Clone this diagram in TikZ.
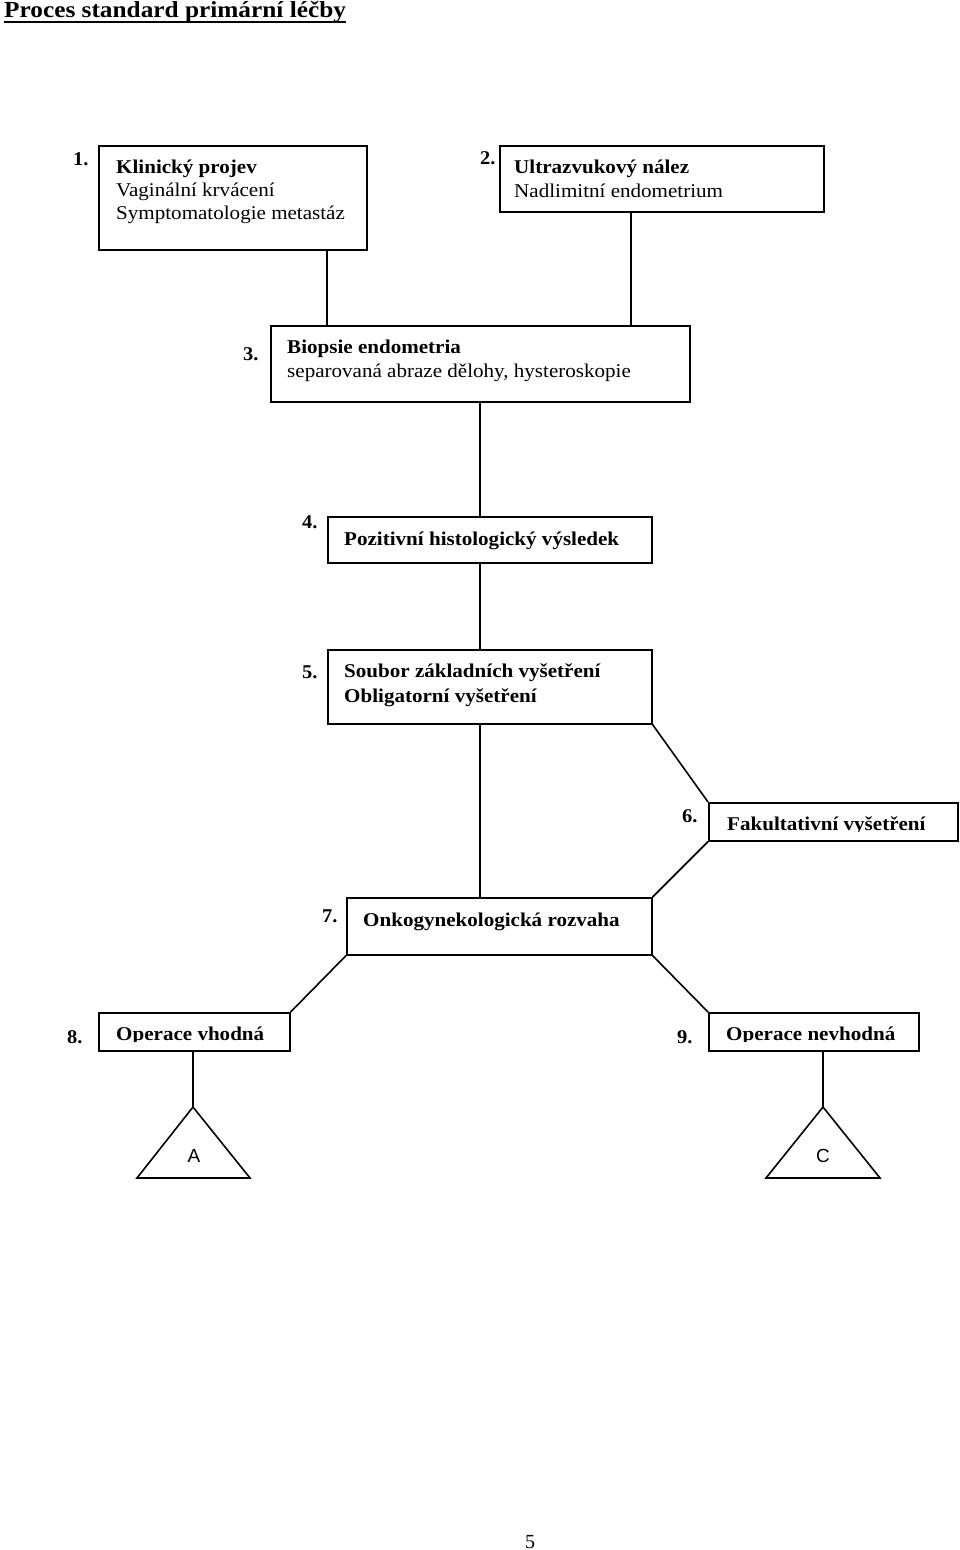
\documentclass[tikz,border=0pt]{standalone}
\usepackage{fontspec}
\setmainfont{Liberation Serif}
\newfontfamily\sansf{Liberation Sans}
\begin{document}
\begin{tikzpicture}[x=1pt,y=-1pt,
  box/.style={draw, line width=1.6pt, rectangle, inner sep=0pt, anchor=north west},
  conn/.style={line width=1.6pt},
  txt/.style={anchor=base west, inner sep=0pt, xscale=1.08, transform shape, font=\fontsize{19.5}{23}\selectfont},
  btxt/.style={txt, font=\fontsize{19.5}{23}\selectfont\bfseries},
  num/.style={anchor=base west, inner sep=0pt, xscale=1.05, transform shape, font=\fontsize{19.5}{23}\selectfont\bfseries},
  tri/.style={line width=1.6pt, line join=miter},
  lett/.style={inner sep=0pt, font=\sansf\fontsize{19}{23}\selectfont}]
\useasboundingbox (0,0) rectangle (960,1550);

% title
\node[anchor=base west, inner sep=0pt, xscale=1.10, transform shape, font=\fontsize{23}{26}\selectfont\bfseries] (title) at (4,17) {Proces standard primární léčby};
\draw[line width=1.4pt] ([yshift=-5pt]title.base west) -- ([yshift=-5pt]title.base east);

% boxes
\node[box, minimum width=268pt, minimum height=104pt] (b1) at (98,145) {};
\node[box, minimum width=324pt, minimum height=66pt] (b2) at (499,145) {};
\node[box, minimum width=419pt, minimum height=76pt] (b3) at (270,325) {};
\node[box, minimum width=324pt, minimum height=46pt] (b4) at (327,516) {};
\node[box, minimum width=324pt, minimum height=74pt] (b5) at (327,649) {};
\node[box, minimum width=249pt, minimum height=38pt] (b6) at (708,802) {};
\node[box, minimum width=305pt, minimum height=57pt] (b7) at (346,897) {};
\node[box, minimum width=191pt, minimum height=38pt] (b8) at (98,1012) {};
\node[box, minimum width=210pt, minimum height=38pt] (b9) at (708,1012) {};

% numbers
\node[num] (n1) at (73,165) {1.};
\node[num] (n2) at (480,164) {2.};
\node[num] (n3) at (243,360) {3.};
\node[num] (n4) at (302,528) {4.};
\node[num] (n5) at (302,678) {5.};
\node[num] (n6) at (682,822) {6.};
\node[num] (n7) at (322,922) {7.};
\node[num] (n8) at (67,1043) {8.};
\node[num] (n9) at (677,1043) {9.};

% texts
\node[btxt] (t1a) at (116,173) {Klinický projev};
\node[txt] (t1b) at (116,196) {Vaginální krvácení};
\node[txt] (t1c) at (116,219) {Symptomatologie metastáz};
\node[btxt] (t2a) at (514,173) {Ultrazvukový nález};
\node[txt] (t2b) at (514,197) {Nadlimitní endometrium};
\node[btxt] (t3a) at (287,353) {Biopsie endometria};
\node[txt] (t3b) at (287,377) {separovaná abraze dělohy, hysteroskopie};
\node[btxt] (t4) at (344,545) {Pozitivní histologický výsledek};
\node[btxt] (t5a) at (344,677) {Soubor základních vyšetření};
\node[btxt] (t5b) at (344,702) {Obligatorní vyšetření};
\begin{scope}
  \clip (700,800) rectangle (960,831);
  \node[btxt] (t6) at (727,830) {Fakultativní vyšetření};
\end{scope}
\node[btxt] (t7) at (363,926) {Onkogynekologická rozvaha};
\begin{scope}
  \clip (90,1010) rectangle (300,1041);
  \node[btxt] (t8) at (116,1040) {Operace vhodná};
\end{scope}
\begin{scope}
  \clip (700,1010) rectangle (930,1041);
  \node[btxt] (t9) at (726,1040) {Operace nevhodná};
\end{scope}

% triangles
\coordinate (tA) at (193,1107);
\coordinate (tC) at (823,1107);
\draw[tri] (tA) -- ++(-56,71) -- ++(113,0) -- cycle;
\draw[tri] (tC) -- ++(-57,71) -- ++(114,0) -- cycle;
\node[lett] (lA) at (194,1156) {A};
\node[lett] (lC) at (823,1156) {C};

% connectors
\draw[conn] ([xshift=229pt]b1.south west) -- ([xshift=229pt]b1.south west |- b3.north);
\draw[conn] ([xshift=132pt]b2.south west) -- ([xshift=132pt]b2.south west |- b3.north);
\draw[conn] ([xshift=210pt]b3.south west) coordinate (c3) -- (c3 |- b4.north);
\draw[conn] (c3 |- b4.south) -- (c3 |- b5.north);
\draw[conn] (c3 |- b5.south) -- (c3 |- b7.north);
\draw[conn] (b5.south east) -- (b6.north west);
\draw[conn] (b6.south west) -- (b7.north east);
\draw[conn] (b7.south west) -- (b8.north east);
\draw[conn] (b7.south east) -- (b9.north west);
\draw[conn] (b8.south -| tA) -- (tA);
\draw[conn] (b9.south -| tC) -- (tC);

% page number
\node[anchor=base, inner sep=0pt, font=\fontsize{20}{23}\selectfont] (pg) at (530,1548) {5};
\end{tikzpicture}
\end{document}
